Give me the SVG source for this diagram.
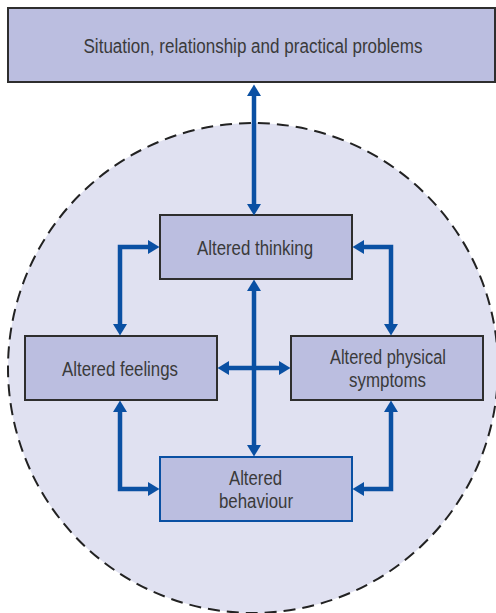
<svg xmlns="http://www.w3.org/2000/svg" width="496" height="613" viewBox="0 0 496 613">
  <style>
    .box { fill: #BBBEE0; stroke: #2E2E2E; stroke-width: 2; }
    .blue { stroke: #0A50A3; }
    .lbl { font-family: "Liberation Sans", Arial, sans-serif; font-size: 20px; fill: #3A3A3A; text-anchor: middle; }
    .conn { fill: none; stroke: #0A50A3; stroke-width: 4.5; stroke-linejoin: miter; marker-start: url(#ah); marker-end: url(#ah); }
  </style>
  <defs>
    <marker id="ah" markerUnits="userSpaceOnUse" markerWidth="12" markerHeight="14" refX="0" refY="7" orient="auto-start-reverse" viewBox="0 0 12 14">
      <path d="M0,0 L11.5,7 L0,14 z" fill="#0A50A3"/>
    </marker>
  </defs>
  <rect width="496" height="613" fill="#FFFFFF"/>
  <circle cx="253" cy="368" r="245" fill="#E0E1F1" stroke="#222222" stroke-width="2" stroke-dasharray="12 7"/>

  <g id="situation">
    <rect class="box" x="8" y="8" width="487" height="74"/>
    <text class="lbl" x="253" y="53" textLength="339" lengthAdjust="spacingAndGlyphs">Situation, relationship and practical problems</text>
  </g>
  <g id="thinking">
    <rect class="box" x="160" y="215" width="192" height="64"/>
    <text class="lbl" x="255" y="255" textLength="116" lengthAdjust="spacingAndGlyphs">Altered thinking</text>
  </g>
  <g id="feelings">
    <rect class="box" x="25" y="336" width="192" height="64"/>
    <text class="lbl" x="120" y="376" textLength="116" lengthAdjust="spacingAndGlyphs">Altered feelings</text>
  </g>
  <g id="physical">
    <rect class="box" x="291" y="336" width="192" height="64"/>
    <text class="lbl" x="388" y="364" textLength="116" lengthAdjust="spacingAndGlyphs">Altered physical</text>
    <text class="lbl" x="387.5" y="387" textLength="77" lengthAdjust="spacingAndGlyphs">symptoms</text>
  </g>
  <g id="behaviour">
    <rect class="box blue" x="160" y="457" width="192" height="64"/>
    <text class="lbl" x="255.5" y="485" textLength="53" lengthAdjust="spacingAndGlyphs">Altered</text>
    <text class="lbl" x="256" y="508" textLength="74" lengthAdjust="spacingAndGlyphs">behaviour</text>
  </g>

  <g id="connectors">
    <path class="conn" d="M254,96 V204"/>
    <path class="conn" d="M254,291 V445"/>
    <path class="conn" d="M229,368 H279"/>
    <path class="conn" d="M120,324 V247 H148"/>
    <path class="conn" d="M391,324 V247 H364"/>
    <path class="conn" d="M120,412 V489 H148"/>
    <path class="conn" d="M391,412 V489 H364"/>
  </g>
</svg>
